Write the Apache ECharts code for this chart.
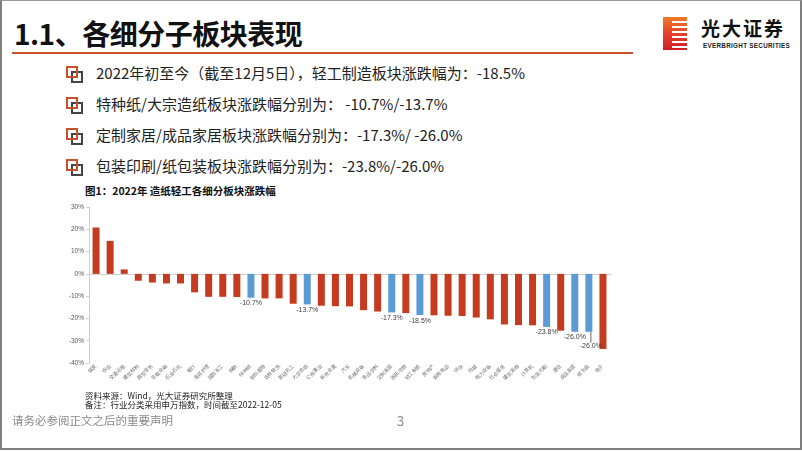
<!DOCTYPE html>
<html>
<head>
<meta charset="utf-8">
<script src="https://cdn.jsdelivr.net/npm/echarts@6/dist/echarts.min.js"></script>
<style>
  html, body { margin:0; padding:0; background:#fff; }
  body { width:802px; height:451px; position:relative; overflow:hidden; font-family:"Noto Sans CJK SC","Noto Sans",sans-serif; }
  .frame { position:absolute; left:0; top:0; width:798px; height:447px; border:2px solid #7f7f7f; border-top:1px solid #9a9a9a; }
  .title { position:absolute; left:14px; top:13px; font-size:28px; font-weight:bold; color:#111; letter-spacing:-0.5px; }
  .rule { position:absolute; left:12px; top:52px; width:621px; height:2px; background:#c8502d; }
  .logo { position:absolute; left:663px; top:17px; width:24px; height:33px; background:linear-gradient(180deg,#f07a2a 0%,#e4412a 50%,#d01f2a 100%); }
  .stripe { position:absolute; left:9px; height:2px; background:#fff; width:15px; }
  .brand { position:absolute; left:701px; top:15px; font-size:19px; line-height:26px; font-weight:bold; color:#111; letter-spacing:2px; }
  .brand-en { position:absolute; left:703px; top:42px; font-size:6.3px; line-height:8px; font-weight:bold; color:#222; letter-spacing:0.3px; font-family:"Liberation Sans","DejaVu Sans",sans-serif; }
  .bullet { position:absolute; left:66px; font-size:15px; color:#222; }
  .bullet .ico { position:absolute; left:0; top:4px; width:16px; height:16px; }
  .ico .a { position:absolute; left:0; top:0; width:8px; height:8px; border:2px solid #c8502d; }
  .ico .b { position:absolute; left:5px; top:5px; width:8px; height:8px; border:2px solid #444; }
  .bullet .t { position:absolute; left:30px; top:0; white-space:nowrap; }
  .caption { position:absolute; left:85px; top:183px; font-size:10.5px; font-weight:bold; color:#111; white-space:nowrap; }
  .src { position:absolute; left:85px; font-size:8.5px; color:#222; white-space:nowrap; line-height:9px; }
  .foot { position:absolute; left:12px; top:412px; font-size:11.5px; color:#8a8a8a; }
  .page { position:absolute; left:397px; top:411px; font-size:13px; color:#8a8a8a; }
  #chart { position:absolute; left:0; top:195px; width:802px; height:200px; }
</style>
</head>
<body>
<div class="frame"></div>
<div class="title">1.1、各细分子板块表现</div>
<div class="rule"></div>
<div class="logo">
  <div class="stripe" style="top:4px"></div>
  <div class="stripe" style="top:9px"></div>
  <div class="stripe" style="top:14px"></div>
  <div class="stripe" style="top:19px"></div>
  <div class="stripe" style="top:24px"></div>
  <div class="stripe" style="top:29px"></div>
</div>
<div class="brand">光大证券</div>
<div class="brand-en">EVERBRIGHT SECURITIES</div>

<div class="bullet" style="top:62px"><div class="ico"><div class="b"></div><div class="a"></div></div><div class="t">2022年初至今（截至12月5日），轻工制造板块涨跌幅为：-18.5%</div></div>
<div class="bullet" style="top:93px"><div class="ico"><div class="b"></div><div class="a"></div></div><div class="t">特种纸/大宗造纸板块涨跌幅分别为： -10.7%/-13.7%</div></div>
<div class="bullet" style="top:124px"><div class="ico"><div class="b"></div><div class="a"></div></div><div class="t">定制家居/成品家居板块涨跌幅分别为：-17.3%/ -26.0%</div></div>
<div class="bullet" style="top:155px"><div class="ico"><div class="b"></div><div class="a"></div></div><div class="t">包装印刷/纸包装板块涨跌幅分别为：-23.8%/-26.0%</div></div>

<div class="caption">图1：2022年 造纸轻工各细分板块涨跌幅</div>
<div id="chart"></div>
<div class="src" style="top:391px">资料来源：Wind，光大证券研究所整理</div>
<div class="src" style="top:400px">备注：行业分类采用申万指数，时间截至2022-12-05</div>
<div class="foot">请务必参阅正文之后的重要声明</div>
<div class="page">3</div>

<script>
var categories = ['煤炭','综合','交通运输','建筑材料','商贸零售','非银金融','石油石化','银行','美容护理','国防军工','钢铁','特种纸','纺织服饰','农林牧渔','基础化工','大宗造纸','公用事业','有色金属','汽车','机械设备','食品饮料','定制家居','医药生物','轻工制造','房地产','家用电器','环保','传媒','电力设备','社会服务','建筑装饰','计算机','包装印刷','通信','成品家居','纸包装','电子'];
var values = [20.8, 14.8, 2.0, -3.1, -3.9, -4.3, -4.3, -8.3, -10.3, -10.3, -10.4, -10.7, -11.0, -11.0, -13.4, -13.7, -14.3, -14.5, -14.6, -16.3, -16.9, -17.3, -17.6, -18.5, -18.6, -18.8, -18.9, -19.6, -20.4, -22.7, -23.0, -23.1, -23.8, -25.5, -26.0, -26.0, -33.7];
var highlighted = ['特种纸','大宗造纸','定制家居','轻工制造','包装印刷','成品家居','纸包装'];
var yTicks = { min: -40, max: 30, interval: 10 };

var RED = '#c43b1f', BLUE = '#5b9bd5';
var data = values.map(function (v, i) {
  var hi = highlighted.indexOf(categories[i]) >= 0;
  var item = { value: v, itemStyle: { color: hi ? BLUE : RED } };
  if (hi) {
    item.label = { show: true, position: 'bottom', distance: 2, formatter: function (p) { return p.value.toFixed(1) + '%'; },
      fontSize: 7, color: '#404040', fontFamily: 'Liberation Sans' };
    if (categories[i] === '纸包装') {
      item.labelLine = { show: true, lineStyle: { color: '#404040', width: 0.8 } };
    }
  }
  return item;
});

var chart = echarts.init(document.getElementById('chart'), null, { renderer: 'canvas' });
chart.setOption({
  animation: false,
  grid: { left: 89, right: 192, top: 12, height: 156 },
  xAxis: [
    { type: 'category', data: categories, axisLine: { onZero: true, lineStyle: { color: '#d0d0d0', width: 1 } },
      axisTick: { show: true, length: 2, lineStyle: { color: '#d0d0d0' } }, axisLabel: { show: false } },
    { type: 'category', data: categories, position: 'bottom', axisLine: { show: false }, axisTick: { show: false },
      axisLabel: { show: true, interval: 0, rotate: 45, fontSize: 5, color: '#666', margin: 2 } }
  ],
  yAxis: { type: 'value', min: yTicks.min, max: yTicks.max, interval: yTicks.interval,
    axisLine: { show: true, lineStyle: { color: '#d0d0d0' } },
    axisTick: { show: true, length: 3, lineStyle: { color: '#d0d0d0' } },
    splitLine: { show: false },
    axisLabel: { formatter: '{value}%', fontSize: 6.5, color: '#555', margin: 5, fontFamily: 'Liberation Sans' } },
  series: [{
    type: 'bar', xAxisIndex: 0, data: data, barWidth: 7,
    labelLayout: function (p) { return p.dataIndex === 35 ? { dy: 9, dx: 2 } : {}; }
  }]
});
</script>
</body>
</html>
